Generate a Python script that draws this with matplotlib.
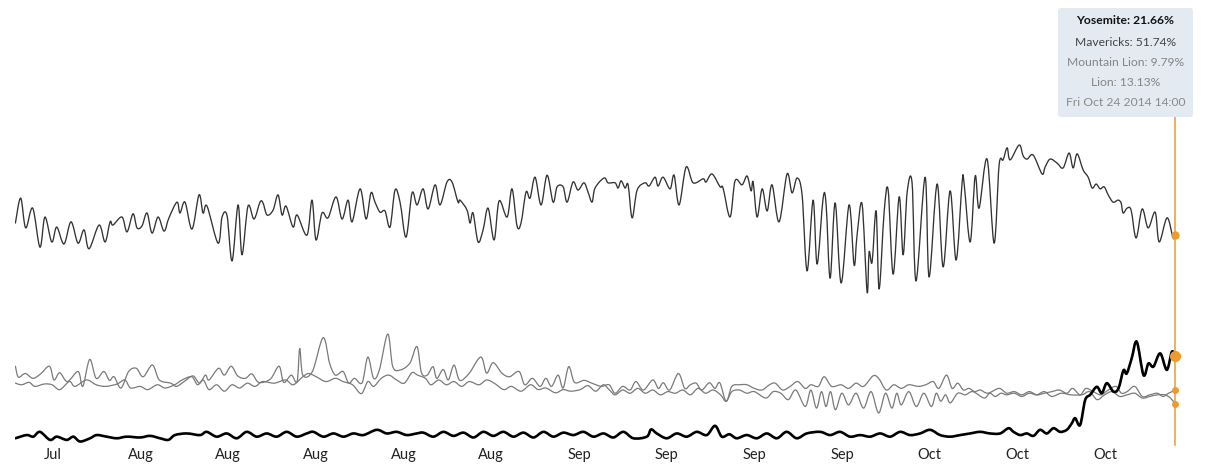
import matplotlib
matplotlib.use('Agg')
import matplotlib.pyplot as plt
import matplotlib.dates as mdates
from matplotlib.patches import FancyBboxPatch, PathPatch
from matplotlib.path import Path
from matplotlib.transforms import IdentityTransform
from datetime import datetime, timedelta

plt.rcParams['font.family'] = ['Lato', 'DejaVu Sans']

START = datetime(2014, 7, 24)
END = datetime(2014, 10, 24, 14)

# (days since Jul 24 2014 00:00, share in %)
mavericks = [(0.0,54.7),(0.42,60.9),(0.82,53.5),(1.38,58.4),(1.96,48.7),(2.36,56.2),(2.90,50.0),(3.30,53.7),(3.88,49.5),(4.44,55.0),(5.00,49.7),(5.48,53.0),(5.88,48.3),(6.68,54.2),(7.16,50.0),(7.56,55.0),(7.79,54.2),(8.51,56.2),(8.91,52.5),(9.39,57.0),(9.71,53.5),(10.11,54.0),(10.51,57.2),(10.91,52.2),(11.39,56.2),(11.87,52.7),(12.26,56.0),(12.90,59.9),(13.14,57.2),(13.54,59.9),(14.10,53.2),(14.66,61.7),(14.98,57.2),(15.30,58.9),(16.18,49.7),(16.50,56.2),(16.90,56.5),(17.30,45.3),(17.78,59.2),(18.09,46.8),(18.57,58.9),(19.05,55.7),(19.53,59.9),(19.77,59.7),(20.09,56.7),(20.57,57.9),(20.97,61.7),(21.29,56.7),(21.61,58.9),(22.17,53.7),(22.49,56.7),(23.28,51.7),(23.68,60.4),(24.00,50.5),(24.48,57.2),(24.96,56.0),(25.60,61.2),(26.08,55.7),(26.56,60.4),(26.88,55.0),(27.52,63.2),(28.00,55.7),(28.39,62.2),(28.71,59.9),(29.11,57.4),(29.51,57.7),(29.91,53.7),(30.31,62.9),(30.71,59.9),(31.19,51.2),(31.67,62.2),(32.07,59.2),(32.55,63.2),(32.95,58.2),(33.51,64.2),(33.90,59.2),(34.46,64.9),(34.86,64.9),(35.34,59.9),(35.50,60.4),(36.06,57.9),(36.30,54.7),(36.54,57.2),(36.94,50.0),(37.34,53.0),(37.74,58.4),(38.22,50.5),(38.62,60.2),(39.26,56.2),(39.65,63.2),(40.05,54.0),(40.37,54.7),(40.77,62.4),(41.09,60.9),(41.49,66.1),(41.97,59.2),(42.45,66.6),(42.93,59.9),(43.25,63.7),(43.73,63.7),(44.05,59.9),(44.52,64.9),(44.92,62.9),(45.40,64.7),(45.72,62.4),(46.04,59.9),(46.28,63.4),(47.00,65.9),(47.32,64.7),(47.88,64.7),(48.12,63.4),(48.36,65.2),(48.68,63.4),(48.92,64.2),(49.24,56.0),(49.64,62.9),(50.27,64.7),(50.59,63.9),(51.07,66.1),(51.31,63.9),(51.71,66.1),(52.27,63.2),(52.59,66.6),(52.99,59.2),(53.55,68.6),(54.11,64.7),(54.91,65.7),(55.14,64.9),(55.62,66.9),(56.26,63.7),(56.50,63.4),(57.06,56.2),(57.46,65.2),(58.02,64.2),(58.42,66.4),(58.74,62.7),(58.90,64.9),(59.22,56.2),(59.62,63.2),(60.02,57.7),(60.41,64.2),(60.97,55.0),(61.61,66.9),(62.01,62.2),(62.41,65.9),(62.81,61.7),(63.21,42.8),(63.69,60.4),(64.01,44.5),(64.49,60.9),(64.73,59.2),(65.05,41.0),(65.45,59.7),(65.93,39.8),(66.56,59.2),(66.96,44.3),(67.20,51.7),(67.60,59.4),(68.00,37.6),(68.16,47.5),(68.40,45.0),(68.72,57.7),(68.96,38.3),(69.36,57.4),(69.68,62.9),(70.08,42.0),(70.56,61.2),(70.88,46.8),(71.20,62.4),(71.59,64.7),(71.91,40.3),(72.63,66.1),(72.95,41.3),(73.59,64.4),(74.07,43.8),(74.63,62.7),(75.11,45.5),(75.59,64.9),(75.75,64.4),(76.23,50.0),(76.63,66.4),(76.94,58.4),(77.58,70.6),(78.14,49.7),(78.54,69.1),(78.86,70.4),(79.18,73.4),(79.42,70.4),(80.14,74.1),(80.46,71.4),(80.78,70.6),(81.26,71.6),(81.97,66.9),(82.21,68.6),(82.61,70.6),(83.17,69.6),(83.65,68.4),(84.13,72.1),(84.45,68.4),(84.77,71.9),(85.25,67.9),(85.65,66.1),(85.97,63.4),(86.29,64.4),(86.61,63.2),(86.93,63.7),(87.25,61.7),(87.64,59.9),(88.04,60.4),(88.28,59.7),(88.44,57.2),(88.76,58.4),(89.08,57.9),(89.48,51.0),(89.96,58.2),(90.44,53.5),(91.00,57.4),(91.32,50.0),(91.95,56.0),(92.43,51.0),(92.58,51.74)]

lion = [(0.0,19.1),(0.24,16.4),(0.79,17.3),(1.40,16.1),(2.01,17.2),(2.72,19.1),(3.08,15.7),(3.54,17.5),(4.15,15.3),(5.01,17.8),(5.38,14.1),(5.93,20.8),(6.45,16.1),(7.06,17.8),(7.51,15.6),(7.88,16.5),(8.43,13.7),(9.04,17.8),(9.65,18.6),(10.20,16.5),(10.94,19.4),(11.49,15.7),(12.40,14.9),(12.86,14.1),(13.47,15.3),(14.18,16.7),(14.70,14.9),(15.17,16.9),(15.46,15.7),(16.22,18.6),(16.68,16.9),(17.23,19.1),(17.75,16.7),(18.36,16.1),(18.88,17.2),(19.43,15.1),(20.35,15.9),(21.05,19.1),(21.42,15.1),(22.03,16.9),(22.49,15.3),(22.70,23.5),(22.95,16.9),(23.71,17.8),(24.57,26.2),(25.09,19.8),(25.55,16.9),(26.16,17.8),(26.61,14.9),(27.07,16.1),(27.68,15.0),(28.14,21.4),(28.60,16.1),(29.06,18.2),(29.73,27.1),(30.13,19.0),(30.74,18.2),(31.50,19.9),(32.06,24.0),(32.42,17.5),(32.88,16.9),(33.34,19.0),(33.64,16.1),(34.16,18.3),(34.56,15.7),(35.02,19.4),(35.48,15.6),(36.24,17.4),(37.16,21.4),(37.62,17.4),(38.14,20.0),(38.84,17.4),(39.45,16.5),(40.21,17.8),(40.67,14.5),(41.28,16.1),(41.89,14.1),(42.35,16.1),(42.81,14.1),(43.33,16.9),(43.73,13.7),(44.18,19.0),(44.64,15.1),(45.41,15.6),(46.02,14.9),(46.78,14.1),(47.40,14.5),(47.88,12.4),(48.48,14.1),(49.08,13.2),(49.54,15.3),(50.14,13.2),(50.89,15.7),(51.34,13.6),(51.73,15.0),(52.24,13.2),(52.93,17.3),(53.44,13.6),(53.89,14.5),(54.35,14.9),(54.80,13.2),(55.40,15.0),(55.85,13.6),(56.24,15.0),(56.75,10.4),(57.20,14.1),(57.80,14.5),(58.40,14.5),(59.00,13.6),(59.61,13.2),(60.21,14.5),(60.66,14.9),(61.26,13.2),(61.86,14.1),(62.46,15.3),(63.06,13.6),(63.51,14.5),(64.11,14.1),(64.57,16.5),(65.17,14.1),(65.92,14.5),(66.52,13.6),(67.12,14.9),(67.72,14.1),(68.47,16.7),(68.92,16.1),(69.53,13.2),(70.13,14.5),(70.73,13.6),(71.33,14.5),(72.08,14.1),(72.68,14.5),(73.28,15.3),(73.73,13.6),(74.34,16.9),(74.79,13.6),(75.24,14.9),(75.69,13.2),(76.14,13.6),(76.59,12.8),(77.04,13.2),(77.64,12.4),(78.54,13.6),(79.14,12.4),(79.75,12.8),(80.35,12.0),(80.95,12.8),(81.55,12.0),(82.15,12.4),(82.75,12.8),(83.35,13.2),(83.95,12.4),(84.41,13.6),(85.01,12.0),(85.46,13.6),(86.06,12.8),(86.66,12.0),(87.26,13.2),(87.86,14.1),(88.31,12.4),(88.76,12.8),(89.37,14.1),(89.97,11.6),(90.57,12.0),(91.17,12.4),(91.62,11.6),(92.07,12.4),(92.58,13.13)]

mountain_lion = [(0.0,14.9),(0.49,14.5),(1.10,15.1),(1.55,14.1),(2.32,14.7),(2.93,14.5),(3.54,13.3),(4.31,15.3),(4.76,14.1),(5.68,15.7),(6.45,14.5),(7.21,14.1),(8.13,14.7),(8.74,15.7),(9.20,13.7),(9.96,14.1),(10.57,13.3),(11.33,14.5),(11.95,13.7),(12.71,14.5),(13.32,15.7),(14.08,16.5),(14.54,14.5),(15.00,15.7),(15.46,13.3),(16.07,14.5),(16.68,12.9),(17.29,14.5),(17.90,13.7),(18.52,14.9),(19.13,14.1),(19.74,15.3),(20.66,14.9),(21.57,15.7),(22.18,14.5),(22.95,16.5),(23.41,17.3),(24.02,16.5),(24.78,15.3),(25.55,16.1),(26.16,15.3),(26.92,14.5),(27.62,12.3),(28.14,15.3),(28.60,14.1),(29.21,16.1),(29.82,16.9),(30.43,15.7),(31.05,14.9),(31.66,17.5),(32.11,16.9),(32.73,16.1),(33.18,14.5),(33.80,15.7),(34.41,14.5),(35.02,15.3),(35.63,14.1),(36.24,15.3),(37.01,14.5),(37.62,15.7),(38.23,14.9),(38.99,13.3),(39.60,14.1),(40.37,12.9),(41.13,14.5),(41.74,13.3),(42.35,13.7),(43.12,12.5),(43.73,13.3),(44.34,12.9),(45.10,13.3),(45.71,14.3),(46.33,12.9),(46.94,14.5),(47.40,13.3),(47.88,12.0),(48.48,13.2),(49.08,12.4),(49.69,13.6),(50.29,12.4),(50.89,13.2),(51.49,12.0),(52.09,12.8),(52.69,12.4),(53.29,13.2),(53.89,12.0),(54.50,13.6),(55.10,12.4),(55.70,13.2),(56.30,12.0),(56.75,10.4),(57.20,12.8),(57.80,13.2),(58.40,12.4),(59.00,12.8),(59.91,11.2),(60.51,12.8),(61.11,12.4),(61.71,10.8),(62.31,13.2),(63.06,9.1),(63.51,13.2),(63.96,8.7),(64.36,12.8),(64.72,9.1),(65.08,12.8),(65.47,8.3),(65.98,12.4),(66.52,9.5),(67.12,12.4),(67.72,8.7),(68.32,12.8),(68.92,7.5),(69.47,12.4),(69.98,8.7),(70.37,12.4),(70.73,9.5),(71.33,12.8),(71.93,9.1),(72.53,12.4),(73.13,9.1),(73.52,12.4),(73.88,10.4),(74.27,12.0),(74.64,10.0),(75.24,12.4),(75.84,12.0),(76.44,12.8),(77.34,11.2),(77.79,12.4),(78.24,11.6),(78.69,12.4),(79.14,12.0),(79.75,12.4),(80.35,11.6),(80.95,12.4),(81.55,12.0),(82.15,12.8),(82.75,11.6),(83.50,12.4),(84.26,12.0),(85.16,12.0),(85.76,12.8),(86.36,10.8),(86.96,12.0),(87.56,12.8),(88.16,11.6),(88.76,12.0),(89.37,12.4),(89.97,11.2),(90.57,11.6),(91.17,12.0),(91.77,12.0),(92.22,11.2),(92.58,9.79)]

yosemite = [(0.0,1.2),(0.90,2.0),(1.43,1.6),(1.96,2.8),(2.76,0.8),(3.30,1.6),(4.09,0.8),(4.63,1.6),(5.16,0.4),(5.96,1.2),(6.49,2.0),(7.29,1.6),(8.09,1.2),(8.88,1.6),(9.95,1.4),(10.75,1.8),(11.55,1.2),(12.21,0.8),(12.74,2.0),(13.68,2.4),(14.74,2.0),(15.27,2.8),(16.07,1.6),(16.87,2.4),(17.67,1.2),(18.47,2.8),(19.27,1.6),(20.06,2.4),(20.86,1.6),(21.66,2.8),(22.46,1.6),(23.26,2.4),(23.79,2.8),(24.59,1.6),(25.39,2.4),(26.19,1.6),(26.98,2.4),(27.78,2.0),(28.85,3.3),(29.65,2.4),(30.44,2.8),(31.24,2.0),(32.04,2.4),(32.57,2.6),(33.37,1.6),(34.17,2.8),(34.97,1.8),(35.77,2.6),(36.57,1.4),(37.36,2.8),(38.16,1.8),(38.96,2.8),(39.76,1.6),(40.56,2.6),(41.36,1.4),(42.16,2.8),(42.95,1.6),(43.75,2.6),(44.55,2.0),(45.35,2.8),(46.15,1.6),(46.95,2.4),(47.74,1.4),(48.54,2.8),(49.34,1.2),(50.41,1.6),(50.75,3.4),(51.21,2.4),(52.00,1.2),(52.80,2.4),(53.60,1.6),(54.40,2.8),(55.20,2.0),(55.86,4.3),(56.40,1.6),(57.00,2.2),(57.59,1.2),(58.39,2.0),(59.19,1.2),(59.99,2.4),(60.79,1.2),(61.58,2.8),(62.38,1.2),(63.18,2.4),(64.25,2.8),(65.05,2.0),(65.84,2.8),(66.64,1.6),(67.44,2.0),(68.24,1.6),(69.04,2.4),(69.84,1.6),(70.64,2.8),(71.43,2.0),(72.23,2.4),(73.03,3.3),(73.83,2.0),(74.63,1.6),(75.43,2.0),(76.22,2.4),(77.02,2.8),(77.82,2.4),(78.62,2.4),(79.29,3.7),(79.69,2.8),(80.22,2.0),(80.75,2.4),(81.28,1.8),(81.81,3.3),(82.35,2.4),(82.88,3.7),(83.41,2.8),(83.94,3.3),(84.34,4.9),(84.61,6.2),(85.01,4.5),(85.41,10.7),(85.81,12.0),(86.34,14.0),(86.74,12.4),(87.14,14.9),(87.67,12.8),(88.07,13.6),(88.47,18.1),(88.73,17.3),(89.13,21.1),(89.53,25.2),(90.07,16.9),(90.46,19.8),(90.86,19.0),(91.40,22.3),(91.93,18.2),(92.33,22.7),(92.58,21.66)]

tooltip_lines = ['Yosemite: 21.66%', 'Mavericks: 51.74%', 'Mountain Lion: 9.79%',
                 'Lion: 13.13%', 'Fri Oct 24 2014 14:00']

ORANGE = '#eb9b30'


def smooth_line(ax, pairs, **kw):
    """Draw a series as a Catmull-Rom curve (like a smoothed d3 line) in data space."""
    xs = [mdates.date2num(START + timedelta(days=d)) for d, _ in pairs]
    ys = [v for _, v in pairs]
    n = len(xs)
    verts = [(xs[0], ys[0])]
    codes = [Path.MOVETO]
    for i in range(n - 1):
        i0, i3 = max(i - 1, 0), min(i + 2, n - 1)
        c1 = (xs[i] + (xs[i + 1] - xs[i0]) / 6, ys[i] + (ys[i + 1] - ys[i0]) / 6)
        c2 = (xs[i + 1] - (xs[i3] - xs[i]) / 6, ys[i + 1] - (ys[i3] - ys[i]) / 6)
        verts += [c1, c2, (xs[i + 1], ys[i + 1])]
        codes += [Path.CURVE4] * 3
    patch = PathPatch(Path(verts, codes), fill=False, transform=ax.transData,
                      joinstyle='round', capstyle='round', **kw)
    ax.add_patch(patch)


W, H = 1212, 472
fig = plt.figure(figsize=(W / 100, H / 100), dpi=100)
ax = fig.add_axes([15.4 / W, (H - 445) / H, (1175 - 15.4) / W, (445 - 117) / H])
ax.set_xlim(START, END)
ax.set_ylim(-0.47, 81.06)

smooth_line(ax, mountain_lion, edgecolor='#7a7a7a', lw=0.9)
smooth_line(ax, lion, edgecolor='#7a7a7a', lw=0.9)
smooth_line(ax, mavericks, edgecolor='#333333', lw=0.95)
smooth_line(ax, yosemite, edgecolor='#000000', lw=1.9)

ax.axvline(END, color=ORANGE, lw=1.1, zorder=4, clip_on=False)
ax.plot([END], [yosemite[-1][1]], 'o', ms=7.0, color=ORANGE, zorder=6, clip_on=False)
ax.plot([END], [mavericks[-1][1]], 'o', ms=5.0, color=ORANGE, zorder=6, clip_on=False)
ax.plot([END], [lion[-1][1]], 'o', ms=4.0, color=ORANGE, zorder=6, clip_on=False)
ax.plot([END], [mountain_lion[-1][1]], 'o', ms=4.0, color=ORANGE, zorder=6, clip_on=False)

ax.xaxis.set_major_locator(mdates.WeekdayLocator(byweekday=mdates.SU))
ax.xaxis.set_major_formatter(mdates.DateFormatter('%b'))
ax.tick_params(axis='x', length=0, pad=2.5, labelsize=10.5, labelcolor='#222222')
ax.set_yticks([])
for s in ax.spines.values():
    s.set_visible(False)

# tooltip
box = FancyBboxPatch((1058, H - 117), 135, 109,
                     boxstyle='round,pad=0,rounding_size=3',
                     facecolor='#e4eaf1', edgecolor='none',
                     transform=IdentityTransform())
fig.add_artist(box)
ys = [21, 42, 62, 82, 102]
colors = ['#111111', '#444444', '#858585', '#858585', '#8a8a8a']
for i, (t, y, c) in enumerate(zip(tooltip_lines, ys, colors)):
    fig.text(1125.5 / W, 1 - y / H, t, ha='center', va='center', fontsize=8.7,
             color=c, weight='bold' if i == 0 else 'normal')

fig.savefig('out.png', dpi=100)
